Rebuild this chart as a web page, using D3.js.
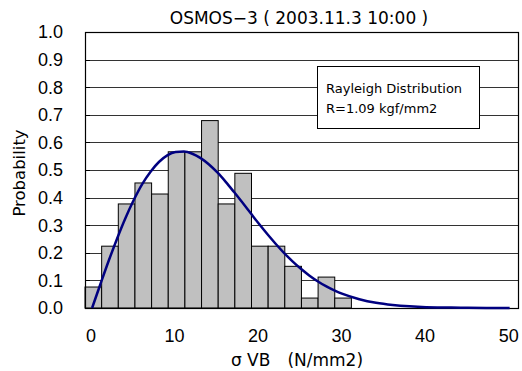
<!DOCTYPE html>
<html>
<head>
    <title>OSMOS-3 Histogram</title>
    <script src="https://cdnjs.cloudflare.com/ajax/libs/d3/7.8.5/d3.min.js"></script>
    <style>
        body {
            margin: 0;
            background-color: white;
            font-family: "DejaVu Sans", sans-serif;
        }
        .tick-label {
            font-family: "Liberation Sans Narrow", "Liberation Sans", Arial, sans-serif;
        }
    </style>
</head>
<body>
    <div id="chart"></div>

    <script>
        // Histogram bins (bin centres, N/mm2) and probabilities
        const binCenters = [0, 2, 4, 6, 8, 10, 12, 14, 16, 18, 20, 22, 24, 26, 28, 30];
        const binValues = [0.076, 0.224, 0.377, 0.453, 0.413, 0.566, 0.566, 0.679,
                           0.377, 0.488, 0.224, 0.224, 0.151, 0.036, 0.112, 0.036];

        // Rayleigh curve
        const curveX = [0, 1, 2, 3, 4, 5, 6, 7, 8, 9, 10, 11, 12, 13, 14, 15, 16, 17, 18, 19,
                        20, 21, 22, 23, 24, 25, 26, 27, 28, 29, 30, 32, 34, 36, 38, 40, 42, 45, 50];
        const curveY = [0, 0.087, 0.172, 0.252, 0.326, 0.392, 0.449, 0.494, 0.529, 0.553,
                        0.565, 0.567, 0.559, 0.543, 0.520, 0.491, 0.457, 0.420, 0.382, 0.343,
                        0.304, 0.267, 0.232, 0.199, 0.169, 0.142, 0.118, 0.097, 0.079, 0.064,
                        0.051, 0.032, 0.019, 0.011, 0.006, 0.003, 0.002, 0.0005, 0];

        const xTicks = [0, 10, 20, 30, 40, 50];
        const yTicks = [0, 0.1, 0.2, 0.3, 0.4, 0.5, 0.6, 0.7, 0.8, 0.9, 1.0];

        const W = 522, H = 371;
        const plot = {left: 85, top: 32, right: 518, bottom: 308};

        const svg = d3.select('#chart')
            .append('svg')
                .attr('width', W)
                .attr('height', H);

        const x = d3.scaleLinear()
            .domain([-0.85, 51])
            .range([plot.left, plot.right]);

        const y = d3.scaleLinear()
            .domain([0, 1])
            .range([plot.bottom, plot.top]);

        // Bars sit on their own category scale (16 bins of width 2)
        const xBar = d3.scaleBand()
            .domain(binCenters)
            .range([plot.left, x(31.05)])
            .padding(0);

        // Gridlines
        svg.append('g')
            .selectAll('line')
            .data(yTicks.slice(1, -1))
            .join('line')
                .attr('x1', plot.left)
                .attr('x2', plot.right)
                .attr('y1', d => Math.round(y(d)) + 0.5)
                .attr('y2', d => Math.round(y(d)) + 0.5)
                .attr('stroke', '#333')
                .attr('stroke-width', 1);

        // Bars
        svg.append('g')
            .selectAll('rect')
            .data(binValues)
            .join('rect')
                .attr('x', (d, i) => xBar(binCenters[i]))
                .attr('y', d => y(d))
                .attr('width', xBar.bandwidth())
                .attr('height', d => y(0) - y(d))
                .attr('fill', '#c0c0c0')
                .attr('stroke', '#000')
                .attr('stroke-width', 1);

        // Plot frame
        svg.append('rect')
            .attr('x', plot.left + 0.5)
            .attr('y', plot.top + 0.5)
            .attr('width', plot.right - plot.left)
            .attr('height', plot.bottom - plot.top)
            .attr('fill', 'none')
            .attr('stroke', '#000')
            .attr('stroke-width', 1.2);

        // Small inside ticks on the y axis
        svg.append('g')
            .selectAll('line')
            .data(yTicks)
            .join('line')
                .attr('x1', plot.left)
                .attr('x2', plot.left + 5)
                .attr('y1', d => Math.round(y(d)) + 0.5)
                .attr('y2', d => Math.round(y(d)) + 0.5)
                .attr('stroke', '#000');

        // Rayleigh curve
        const line = d3.line()
            .x((d, i) => x(curveX[i]))
            .y(d => y(d))
            .curve(d3.curveMonotoneX);

        svg.append('path')
            .datum(curveY)
            .attr('fill', 'none')
            .attr('stroke', '#000080')
            .attr('stroke-width', 2.5)
            .attr('d', line);

        // Y axis labels
        svg.append('g')
            .selectAll('text')
            .data(yTicks)
            .join('text')
                .attr('class', 'tick-label')
                .attr('x', 63)
                .attr('y', d => y(d) + 6.3)
                .attr('text-anchor', 'end')
                .style('font-size', '18px')
                .text(d => d3.format('.1f')(d));

        // X axis labels
        svg.append('g')
            .selectAll('text')
            .data(xTicks)
            .join('text')
                .attr('class', 'tick-label')
                .attr('x', d => x(d) - 1)
                .attr('y', 341.5)
                .attr('text-anchor', 'middle')
                .style('font-size', '18px')
                .text(d => d);

        // Title
        svg.append('text')
            .attr('x', 299)
            .attr('y', 24)
            .attr('text-anchor', 'middle')
            .style('font-size', '17px')
            .text('OSMOS−3 ( 2003.11.3 10:00 )');

        // Axis titles
        svg.append('text')
            .attr('x', 297)
            .attr('y', 366)
            .attr('text-anchor', 'middle')
            .style('font-size', '17px')
            .text('σ VB　(N/mm2)');

        svg.append('text')
            .attr('transform', 'rotate(-90)')
            .attr('x', -173)
            .attr('y', 25)
            .attr('text-anchor', 'middle')
            .style('font-size', '16.5px')
            .text('Probability');

        // Annotation box
        svg.append('rect')
            .attr('x', 317.5)
            .attr('y', 66.5)
            .attr('width', 162)
            .attr('height', 62)
            .attr('fill', 'white')
            .attr('stroke', '#000')
            .attr('stroke-width', 1);

        svg.append('text')
            .attr('x', 326)
            .attr('y', 93)
            .style('font-size', '13px')
            .text('Rayleigh Distribution');

        svg.append('text')
            .attr('x', 326)
            .attr('y', 113)
            .style('font-size', '13px')
            .text('R=1.09 kgf/mm2');
    </script>
</body>
</html>
